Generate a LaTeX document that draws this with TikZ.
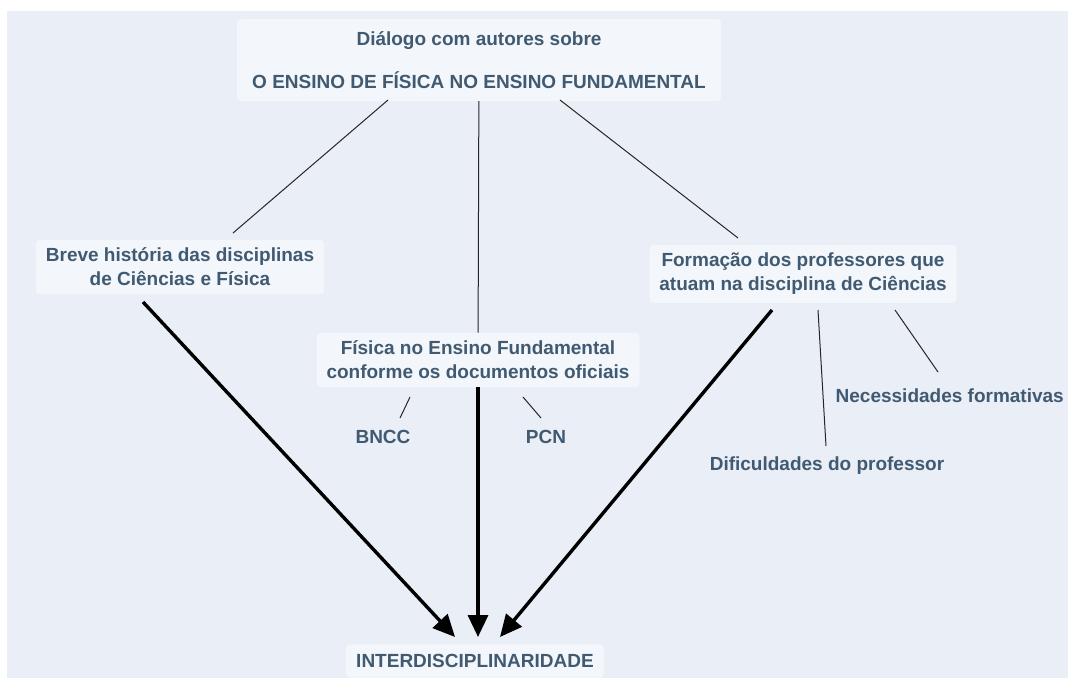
\documentclass[tikz,border=0pt]{standalone}
\usepackage{fontspec}
\setmainfont{Liberation Sans}
\usetikzlibrary{arrows.meta}
\definecolor{mapbg}{RGB}{234,238,247}
\definecolor{boxbg}{RGB}{243,246,251}
\definecolor{maptext}{RGB}{64,90,114}
\begin{document}
\begin{tikzpicture}[x=1pt, y=-1pt,
    concept/.style={fill=boxbg, rounded corners=4pt, align=center, text=maptext,
      font=\bfseries\fontsize{19}{24}\selectfont, inner xsep=10pt, inner ysep=8pt},
    leaf/.style={text=maptext, font=\bfseries\fontsize{19}{24}\selectfont, inner sep=2pt},
    link/.style={draw=black!85, line width=1pt},
    flow/.style={draw=black, line width=3.4pt, -{Triangle[length=22pt, width=20pt]}}]
    \useasboundingbox (0, 0) rectangle (1068, 678);
        \fill[white] (0, 0) rectangle (1068, 678);
        \fill[mapbg] (7, 11) rectangle (1068, 678);
        % main topic
        \node[concept, minimum width=484pt, minimum height=82pt] (dialogo) at (479, 60)
            {Diálogo com autores sobre\\[19pt]O ENSINO DE FÍSICA NO ENSINO FUNDAMENTAL};
        % three branches
        \node[concept] (historia) at (180, 267) {Breve história das disciplinas\\de Ciências e Física};
        \node[concept] (formacao) at (803, 274) {Formação dos professores que\\atuam na disciplina de Ciências};
        \node[concept] (documentos) at (478, 360) {Física no Ensino Fundamental\\conforme os documentos oficiais};
        % leaves
        \node[leaf] (bncc) at (383, 437) {BNCC};
        \node[leaf] (pcn) at (546, 437) {PCN};
        \node[leaf, anchor=east] (necessidades) at (1066, 396) {Necessidades formativas};
        \node[leaf] (dificuldades) at (827, 466) {Dificuldades do professor};
        \node[concept, inner ysep=10pt] (inter) at (475, 661) {INTERDISCIPLINARIDADE};
        % connectors
        \coordinate (d1) at (388, 100);
        \coordinate (d3) at (560, 100);
        \coordinate (h1) at (233, 233);
        \coordinate (f1) at (738, 238);
        \draw[link] (d1) -- (h1);
        \draw[link] (dialogo) -- (documentos);
        \draw[link] (d3) -- (f1);
        \draw[link] (410, 397) -- (400, 418);
        \draw[link] (523, 397) -- (541, 418);
        \draw[link] (818, 310) -- (826, 446);
        \draw[link] (895, 310) -- (938, 372);
        \draw[flow] (143, 302) -- (455, 637);
        \draw[flow] (documentos) -- (478, 637);
        \draw[flow] (772, 310) -- (500, 637);
    \end{tikzpicture}
\end{document}
